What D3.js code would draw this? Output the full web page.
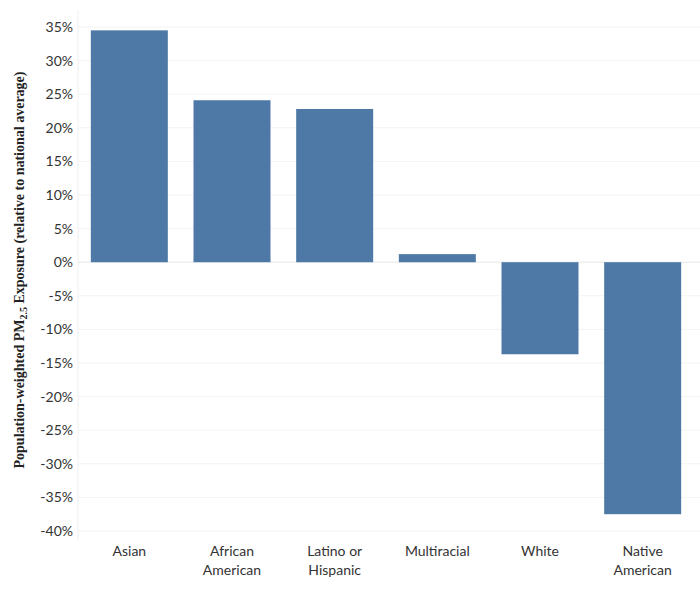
<!DOCTYPE html>
<html><head><meta charset="utf-8">
<script src="https://cdn.jsdelivr.net/npm/d3@7"></script>
<style>body{margin:0;background:#fff}</style></head>
<body><svg id="c" width="700" height="592"></svg>
<script>
const categories = [["Asian"],["African","American"],["Latino or","Hispanic"],["Multiracial"],["White"],["Native","American"]];
const values = [34.5, 24.1, 22.8, 1.2, -13.7, -37.5];
const ticks = [35,30,25,20,15,10,5,0,-5,-10,-15,-20,-25,-30,-35,-40];

const svg = d3.select("#c");
const y = d3.scaleLinear().domain([-40,35]).range([531,27]);
const x = d3.scaleBand().domain(categories.map((d,i)=>i)).range([78,694]).paddingInner(0.25).paddingOuter(0.125);

svg.append("line").attr("x1",78).attr("x2",78).attr("y1",10).attr("y2",540).attr("stroke","#f0f0f0");
svg.append("g").selectAll("line").data(ticks).join("line")
  .attr("x1",78).attr("x2",700).attr("y1",d=>y(d)).attr("y2",d=>y(d))
  .attr("stroke",d=>d===0?"#e6e6e6":"#f3f3f3");
svg.append("g").selectAll("text").data(ticks).join("text")
  .attr("x",73).attr("y",d=>y(d)).attr("dy","0.35em").attr("text-anchor","end")
  .attr("font-family","Lato, 'Open Sans', sans-serif").attr("font-size",14).attr("fill","#333")
  .text(d=>d+"%");

svg.append("g").selectAll("rect").data(values).join("rect")
  .attr("x",(d,i)=>x(i)).attr("width",x.bandwidth())
  .attr("y",d=>y(Math.max(0,d))).attr("height",d=>Math.abs(y(d)-y(0)))
  .attr("fill","#4e79a7");

const xl = svg.append("g").selectAll("text").data(categories).join("text")
  .attr("text-anchor","middle").attr("font-family","Lato, 'Open Sans', sans-serif")
  .attr("font-size",14).attr("fill","#333");
xl.each(function(d,i){
  const t=d3.select(this);
  d.forEach((s,j)=>t.append("tspan").attr("x",x(i)+x.bandwidth()/2).attr("y",556+j*19).text(s));
});

const yl = svg.append("text").attr("transform","translate(24,270) rotate(-90)")
  .attr("text-anchor","middle").attr("font-family","'Liberation Serif', 'DejaVu Serif', serif")
  .attr("font-weight","bold").attr("font-size",14).attr("fill","#222");
yl.append("tspan").text("Population-weighted PM");
yl.append("tspan").attr("font-size",10).attr("dy",3).text("2.5");
yl.append("tspan").attr("dy",-3).text(" Exposure (relative to national average)");
</script></body></html>
